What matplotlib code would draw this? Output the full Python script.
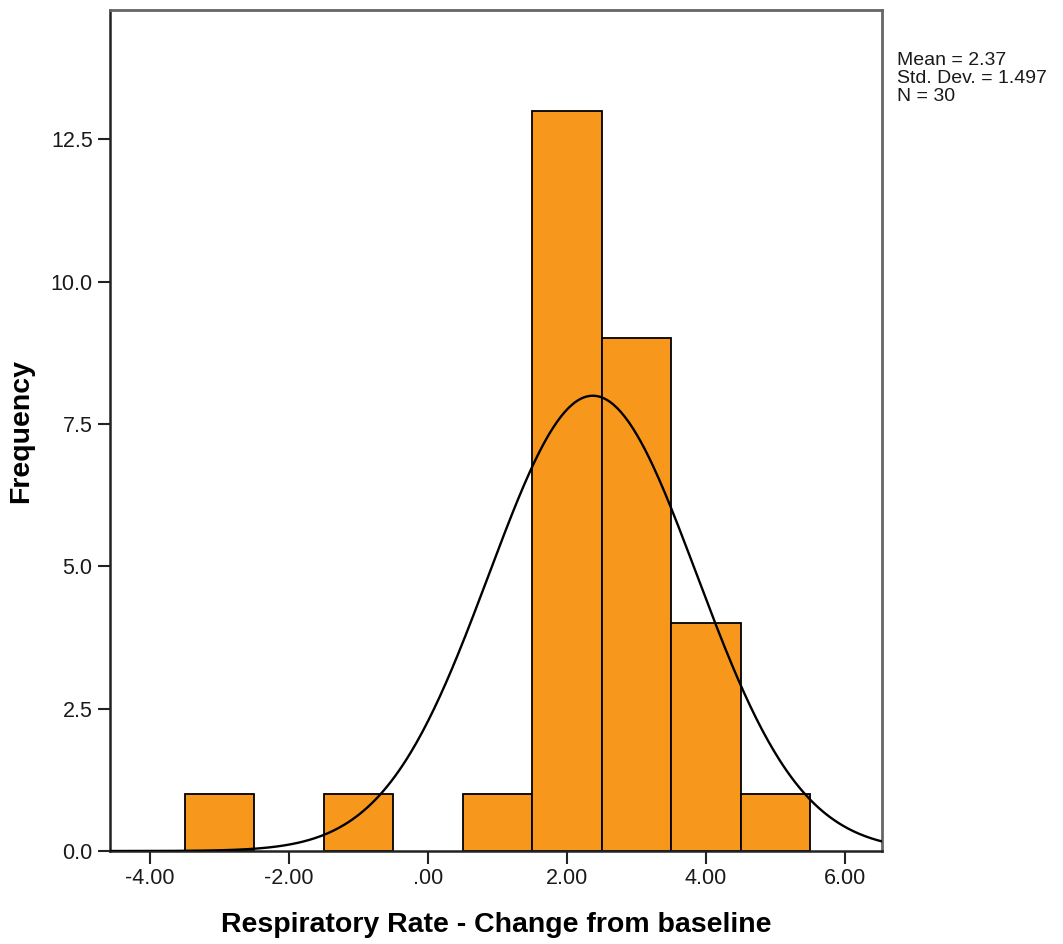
import numpy as np
import matplotlib.pyplot as plt

# histogram data (bin width 1)
bin_left = [-3.5, -1.5, 0.5, 1.5, 2.5, 3.5, 4.5]
counts = [1, 1, 1, 13, 9, 4, 1]
mean = 2.37
std_dev = 1.497
n = 30
xticks = [-4, -2, 0, 2, 4, 6]
xtick_labels = ['-4.00', '-2.00', '.00', '2.00', '4.00', '6.00']
yticks = [0, 2.5, 5, 7.5, 10, 12.5]

plt.rcParams['font.family'] = ['Liberation Sans', 'DejaVu Sans']

fig = plt.figure(figsize=(10.63, 9.44), dpi=100)
ax = fig.add_axes([0.1035, 0.0985, 0.7262, 0.8904])

ax.bar(bin_left, counts, width=1.0, align='edge', color='#F7981D',
       edgecolor='black', linewidth=1.3, zorder=2)

# normal curve scaled to counts
xs = np.linspace(-4.6, 6.6, 400)
ys = n * 1.0 / (std_dev * np.sqrt(2 * np.pi)) * np.exp(-0.5 * ((xs - mean) / std_dev) ** 2)
ax.plot(xs, ys, color='black', linewidth=1.7, zorder=3)

ax.set_xlim(-4.575, 6.53)
ax.set_ylim(0, 14.76)
ax.set_xticks(xticks)
ax.set_xticklabels(xtick_labels)
ax.set_yticks(yticks)
ax.set_yticklabels(['%.1f' % v for v in yticks])
ax.tick_params(axis='both', labelsize=15.5, length=9, width=1.5, direction='out',
               color='#222222', labelcolor='#1a1a1a')

for s in ['left', 'bottom']:
    ax.spines[s].set_color('#222222')
    ax.spines[s].set_linewidth(1.8)
for s in ['top', 'right']:
    ax.spines[s].set_color('#666666')
    ax.spines[s].set_linewidth(2)

ax.set_xlabel('Respiratory Rate - Change from baseline', fontsize=20.5, fontweight='bold', labelpad=16)
ax.set_ylabel('Frequency', fontsize=20.5, fontweight='bold', labelpad=12)

fig.text(897 / 1063, 1 - 52 / 944,
         'Mean = %.2f\nStd. Dev. = %.3f\nN = %d' % (mean, std_dev, n),
         fontsize=14, va='top', ha='left', linespacing=1.08, color='#1a1a1a')

fig.savefig('out.png', dpi=100)
